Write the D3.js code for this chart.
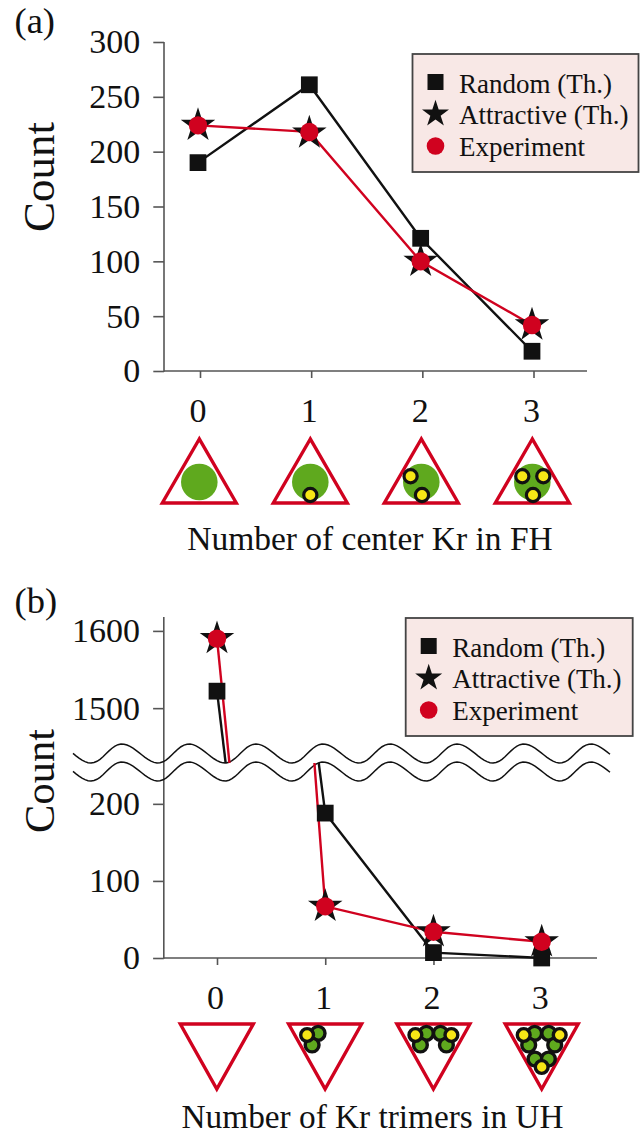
<!DOCTYPE html>
<html><head><meta charset="utf-8">
<script src="https://cdn.jsdelivr.net/npm/d3@7/dist/d3.min.js"></script>
<style>html,body{margin:0;padding:0;background:#fff}svg{display:block}text{font-family:"Liberation Serif",serif;fill:#111}</style>
</head><body><svg id="c" width="644" height="1135"></svg>
<script>
const legendLabels = ["Random (Th.)","Attractive (Th.)","Experiment"];
const xValues = [0,1,2,3];
const aTicks = [0,50,100,150,200,250,300];
const aRandom = [190,261,121,18];
const aAttractive = [224,217,100,42];
const aExperiment = [224,218,100,42];
const bTicks = [0,100,200,1500,1600];
const bRandom = [1522,188,7,0];
const bAttractive = [1590,67,34,21];
const bExperiment = [1590,67,34,21];
const aKr = [[],[[0,13]],[[-10.7,-5.7],[0.7,13]],[[-10,-5.7],[11,-5.7],[0.7,13]]];
const RED="#d0021f", BLACK="#111";
const svg=d3.select("#c");
const sq=d3.symbol().type(d3.symbolSquare).size(281)();
const star=d3.symbol().type(d3.symbolStar).size(370)();
const circ=d3.symbol().type(d3.symbolCircle).size(Math.PI*9.2*9.2)();

function axes(g,xt,y,ticks,x0,x1,yTop,dx){
  const gy=g.append("g").attr("transform",`translate(${x0},0)`).call(d3.axisLeft(y).tickValues(ticks).tickSize(10.7).tickPadding(13).tickFormat(d3.format("d")));
  const gx=g.append("g").attr("transform",`translate(0,${y(0)})`).call(d3.axisBottom(xt).tickValues(xValues).tickSize(7).tickPadding(19.5).tickFormat(d3.format("d")));
  gy.select(".domain").remove();
  gx.select(".domain").remove();
  gx.selectAll(".tick text").attr("dx",dx);
  g.selectAll(".tick line").attr("stroke","#555").attr("stroke-width",1.6);
  g.selectAll(".tick text").attr("font-size",34).attr("font-family","Liberation Serif").attr("fill","#111");
  g.append("line").attr("x1",x0).attr("x2",x0).attr("y1",yTop).attr("y2",y(0)+0.8).attr("stroke","#555").attr("stroke-width",1.6);
  g.append("line").attr("x1",x0).attr("x2",x1).attr("y1",y(0)).attr("y2",y(0)).attr("stroke","#555").attr("stroke-width",1.6);
}
function marks(g,x,y,exp,att,rnd){
  const at=(v,i)=>`translate(${x(i)},${y(v)})`;
  g.selectAll(null).data(rnd).join("path").attr("d",sq).attr("fill",BLACK).attr("transform",at);
  g.selectAll(null).data(att).join("path").attr("d",star).attr("fill",BLACK).attr("transform",at);
  g.selectAll(null).data(exp).join("path").attr("d",circ).attr("fill",RED).attr("transform",at);
}
function legend(g,px,py,w,h){
  g.append("rect").attr("x",px).attr("y",py).attr("width",w).attr("height",h).attr("fill","#f8e8e6").attr("stroke","#444").attr("stroke-width",1.8);
  const sy=[28,60,92], ty=[38.5,69.5,101.5];
  const syms=[[d3.symbol().type(d3.symbolSquare).size(256)(),BLACK],[d3.symbol().type(d3.symbolStar).size(226)(),BLACK],[d3.symbol().type(d3.symbolCircle).size(Math.PI*8.8*8.8)(),RED]];
  legendLabels.forEach((t,i)=>{
    g.append("path").attr("d",syms[i][0]).attr("fill",syms[i][1]).attr("transform",`translate(${px+23},${py+sy[i]})`);
    g.append("text").attr("x",px+46.5).attr("y",py+ty[i]).attr("font-size",27).text(t);
  });
}
function ring(g,cx,cy,fill,r,sw){g.append("circle").attr("cx",cx).attr("cy",cy).attr("r",r).attr("fill",fill).attr("stroke","#111").attr("stroke-width",sw);}

// Panel (a)
const a=svg.append("g");
const xa=d3.scaleLinear().domain([0,3]).range([198,532]);
const xaTicks=d3.scaleLinear().domain([0,3]).range([200,533.5]);
const ya=d3.scaleLinear().domain([0,300]).range([371,42]);
axes(a,xaTicks,ya,aTicks,164,587,42,-2.5);
const la=d3.line().x((d,i)=>xa(i)).y(d=>ya(d));
a.append("path").attr("d",la(aRandom)).attr("fill","none").attr("stroke",BLACK).attr("stroke-width",2.4);
a.append("path").attr("d",la(aExperiment)).attr("fill","none").attr("stroke",RED).attr("stroke-width",2.4);
marks(a,xa,ya,aExperiment,aAttractive,aRandom);
legend(a,412.5,54,226,118);
xValues.forEach((n,i)=>{
  const cx=199.3+i*111;
  a.append("circle").attr("cx",cx).attr("cy",482).attr("r",18.3).attr("fill","#5fa91e");
  a.append("path").attr("d",`M${cx},439L${cx-37},503L${cx+37},503Z`).attr("fill","none").attr("stroke",RED).attr("stroke-width",3.4);
  aKr[i].forEach(p=>ring(a,cx+p[0],482+p[1],"#f7e616",6.6,3.2));
});
svg.append("text").attr("x",14.5).attr("y",33).attr("font-size",36.5).text("(a)");
svg.append("text").attr("transform","translate(54,177) rotate(-90)").attr("text-anchor","middle").attr("font-size",45).text("Count");
svg.append("text").attr("x",370).attr("y",550).attr("text-anchor","middle").attr("font-size",33.5).text("Number of center Kr in FH");

// Panel (b)
const b=svg.append("g");
const xb=d3.scaleLinear().domain([0,3]).range([217,541.7]);
const yb=d3.scaleLinear().domain([0,253,1429,1618]).range([958,763,763,617]);
axes(b,xb,yb,bTicks,163.8,597,617,-2);
// axis-break wave lines (the y axis shows through them)
const waveAt=(x,off)=>{const t=(x-122)/67*2*Math.PI;return [x,753.5+off-9.5*Math.cos(t-0.11*(1-Math.cos(t)))];};
const xs=d3.range(73,611,3);
const wl=d3.line();
b.append("path").attr("d",wl(xs.map(x=>waveAt(x,0)))).attr("fill","none").attr("stroke","#111").attr("stroke-width",1.5);
b.append("path").attr("d",wl(xs.map(x=>waveAt(x,18)))).attr("fill","none").attr("stroke","#111").attr("stroke-width",1.5);
const lb=d3.line().x(d=>xb(d[0])).y(d=>yb(d[1]));
function brokenLine(vals,endTop,startLow,col){
  b.append("path").attr("d",lb([[0,vals[0]],[endTop,1429]])).attr("fill","none").attr("stroke",col).attr("stroke-width",2.4);
  b.append("path").attr("d",lb([[startLow,253]].concat(vals.slice(1).map((v,i)=>[i+1,v])))).attr("fill","none").attr("stroke",col).attr("stroke-width",2.4);
}
brokenLine(bRandom,0.08,0.94,BLACK);
brokenLine(bExperiment,0.115,0.9,RED);
marks(b,xb,yb,bExperiment,bAttractive,bRandom);
legend(b,405.7,618,227,118);
const trimer=(cx,pts)=>{
  pts.slice(1).forEach(p=>ring(b,cx+p[0],p[1],"#5fa91e",6.9,3.4));
  ring(b,cx+pts[0][0],pts[0][1],"#f7e616",6.4,3.4);
};
const L=[[-18,1035],[-7,1033.3],[-13,1045]], R=[[18,1035],[7,1033.3],[13,1045]], D=[[0,1067],[-6.7,1059],[6.7,1059]];
const bKr=[[],[L],[L,R],[L,R,D]];
xValues.forEach((n,i)=>{
  const cx=216.8+i*108.3;
  b.append("path").attr("d",`M${cx-36.5},1024L${cx+36.5},1024L${cx},1089Z`).attr("fill","none").attr("stroke",RED).attr("stroke-width",3.4);
  bKr[i].forEach(t=>trimer(cx,t));
});
svg.append("text").attr("x",14.5).attr("y",613).attr("font-size",36.5).text("(b)");
svg.append("text").attr("transform","translate(54,781) rotate(-90)").attr("text-anchor","middle").attr("font-size",42.5).text("Count");
svg.append("text").attr("x",372.5).attr("y",1127.5).attr("text-anchor","middle").attr("font-size",33.3).text("Number of Kr trimers in UH");
</script></body></html>
